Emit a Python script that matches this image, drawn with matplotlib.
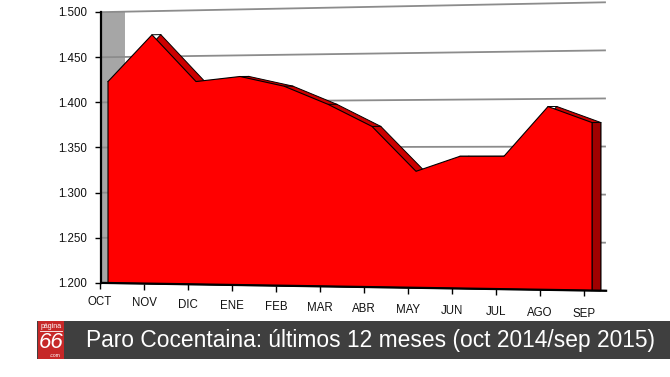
import numpy as np
import matplotlib
matplotlib.use('Agg')
import matplotlib.pyplot as plt
import matplotlib.transforms as mtransforms
from matplotlib.patches import Rectangle

plt.rcParams['font.family'] = ['Liberation Sans', 'DejaVu Sans']

months = ['OCT', 'NOV', 'DIC', 'ENE', 'FEB', 'MAR', 'ABR', 'MAY', 'JUN', 'JUL', 'AGO', 'SEP']
paro = [1423, 1474, 1422, 1427, 1416, 1396, 1372, 1324, 1340, 1340, 1392, 1375]
yticks = [1200, 1250, 1300, 1350, 1400, 1450, 1500]
title = 'Paro Cocentaina: últimos 12 meses (oct 2014/sep 2015)'

# fake 3d look: floor drops and scale grows to the right
BASE = 1200
GROW = 0.0057
DROP = 0.76
DEPTH = 0.2


class Persp(mtransforms.Transform):
    input_dims = 2
    output_dims = 2
    is_separable = False

    def transform_non_affine(self, values):
        v = np.asarray(values, dtype=float)
        x, y = v[:, 0], v[:, 1]
        y2 = BASE + (y - BASE) * (1 + GROW * x) - DROP * x
        return np.column_stack([x, y2])


fig = plt.figure(figsize=(6.7, 3.77), dpi=100)
ax = fig.add_axes([0.15075, 0.24934, 0.75224, 0.71883])
ax.set_autoscale_on(False)
ax.set_xlim(-0.159, 11.295)
ax.set_ylim(1200, 1500)
trans = Persp() + ax.transData

x = np.arange(len(months))
xl, xr = ax.get_xlim()
n = len(paro)

# gray left wall
ax.fill([xl, 0.386, 0.386, xl], [1200, 1200, 1500, 1500], color='#a6a6a6',
        lw=0, transform=trans, zorder=0.3, clip_on=False)

# grid lines on the back wall
for v in yticks:
    ax.plot([xl, xr], [v, v], color='#8c8c8c', lw=1.3, transform=trans,
            zorder=0.5, clip_on=False)

# back face (depth), shows as top faces where the line falls
xs = list(x + DEPTH) + [n - 1 + DEPTH, DEPTH]
ys = list(paro) + [1200, 1200]
ax.fill(xs, ys, facecolor='#cc0000', edgecolor='black', lw=0.7,
        transform=trans, zorder=1, clip_on=False)

# right side face
ax.fill([n - 1, n - 1, n - 1 + DEPTH, n - 1 + DEPTH], [1200, paro[-1], paro[-1], 1200],
        facecolor='#a00000', edgecolor='black', lw=0.7, transform=trans,
        zorder=1.1, clip_on=False)

# connectors front -> back at each point
for xi, v in zip(x, paro):
    ax.plot([xi, xi + DEPTH], [v, v], color='black', lw=0.7, transform=trans,
            zorder=1.2, clip_on=False)

# front face
xs = list(x) + [n - 1, 0]
ys = list(paro) + [1200, 1200]
ax.fill(xs, ys, facecolor='#ff0000', edgecolor='black', lw=0.8,
        transform=trans, zorder=2, clip_on=False)

# floor line and category ticks
ax.plot([xl, xr + 0.05], [1200, 1200], color='black', lw=1.6, transform=trans,
        zorder=3, clip_on=False, solid_capstyle='butt')
ax.plot(x - 0.18, [1200] * n, ls='none', marker=3, ms=4, mew=1, color='black',
        transform=trans, zorder=3, clip_on=False)
for xi, m in zip(x, months):
    ax.annotate(m, (xi - 0.18, 1200), xycoords=trans, xytext=(0, -14 - 0.3 * xi),
                textcoords='offset points', ha='center', va='center',
                fontsize=8.3, color='#111111')

for s in ['top', 'right', 'bottom']:
    ax.spines[s].set_visible(False)
ax.spines['left'].set_linewidth(1.6)
ax.spines['left'].set_zorder(4)
ax.set_xticks([])
ax.set_yticks(yticks)
ax.set_yticklabels([f'{v:,}'.replace(',', '.') for v in yticks], fontsize=8.3, color='#111111')
ax.tick_params(axis='y', direction='out', length=4, width=1, pad=6)
ax.patch.set_visible(False)

# title band with logo
fig.add_artist(Rectangle((37 / 670, 1 - 359 / 377), 633 / 670, 38 / 377,
                         transform=fig.transFigure, color='#3f3f3f', lw=0))
fig.add_artist(Rectangle((38 / 670, 1 - 359 / 377), 26 / 670, 38 / 377,
                         transform=fig.transFigure, color='#c62828', lw=0))
fig.text(51 / 670, 1 - 326 / 377, 'página', color='white', fontsize=5,
         ha='center', va='center')
fig.add_artist(plt.Line2D([40 / 670, 62 / 670], [1 - 331 / 377, 1 - 331 / 377],
                          color='white', lw=0.6, transform=fig.transFigure))
fig.text(51 / 670, 1 - 343 / 377, '66', color='white', fontsize=16,
         fontstyle='italic', ha='center', va='center')
fig.text(55 / 670, 1 - 355.5 / 377, '.com', color='white', fontsize=3.5,
         ha='center', va='center')
fig.text(86 / 670, 1 - 340 / 377, title, color='white', fontsize=16.4,
         ha='left', va='center')

fig.savefig('out.png', dpi=100)
